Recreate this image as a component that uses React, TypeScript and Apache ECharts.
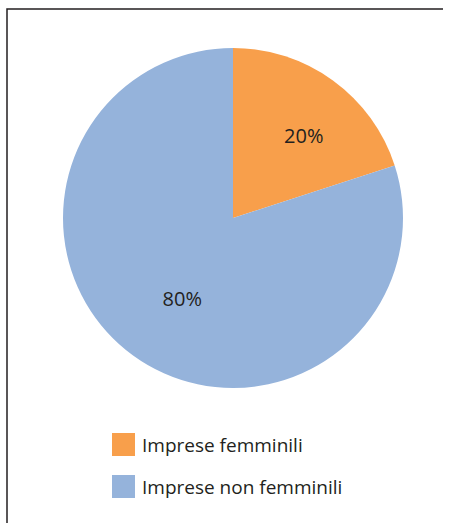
import React, { useEffect, useRef } from "react";
import * as echarts from "echarts";

const categories = ["Imprese femminili", "Imprese non femminili"];
const values = [20, 80];
const colors = ["#F89F4B", "#95B3DB"];
const labelOffsets = [[9, 2], [11, -4]];

export default function App() {
  const ref = useRef<HTMLDivElement>(null);
  useEffect(() => {
    if (!ref.current) return;
    const chart = echarts.init(ref.current, null, { renderer: "svg" });
    const data = categories.map((name, i) => ({
      name,
      value: values[i],
      itemStyle: { color: colors[i] },
    }));
    chart.setOption({
      animation: false,
      legend: {
        orient: "vertical",
        left: 112,
        top: 433,
        padding: 0,
        itemWidth: 23,
        itemHeight: 23,
        itemGap: 19,
        icon: "rect",
        data: categories,
        textStyle: {
          fontFamily: "Open Sans",
          fontSize: 19,
          color: "#231F20",
          padding: [0, 0, 0, 2],
        },
      },
      graphic: [
        {
          type: "polyline",
          shape: { points: [[7, 523], [7, 9], [443, 9]] },
          style: { stroke: "#231F20", lineWidth: 1.5, fill: "none" },
        },
      ],
      series: [
        {
          type: "pie",
          center: [233, 218],
          radius: [0, 170],
          startAngle: 90,
          clockwise: true,
          data,
          label: { show: false },
          labelLine: { show: false },
          silent: true,
        },
        {
          type: "pie",
          center: [233, 218],
          radius: [0, 204],
          startAngle: 90,
          clockwise: true,
          data: categories.map((name, i) => ({
            name,
            value: values[i],
            itemStyle: { color: "rgba(0,0,0,0)" },
            label: { offset: labelOffsets[i] },
          })),
          label: {
            show: true,
            position: "inside",
            formatter: "{d}%",
            fontFamily: "Open Sans",
            fontSize: 20,
            color: "#231F20",
          },
          labelLine: { show: false },
          silent: true,
        },
      ],
    });
    return () => chart.dispose();
  }, []);
  return (
    <div
      ref={ref}
      style={{ position: "fixed", left: 0, top: 0, width: 452, height: 523, background: "#fff" }}
    />
  );
}
